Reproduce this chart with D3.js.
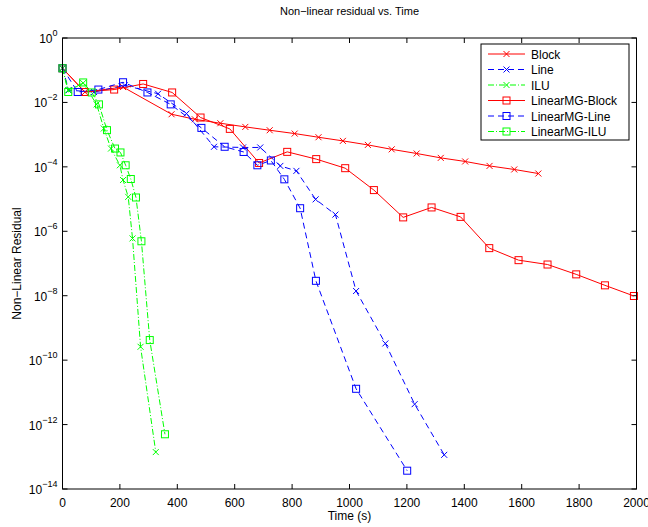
<!DOCTYPE html>
<html>
<head>
<meta charset="utf-8">
<script src="https://cdn.jsdelivr.net/npm/d3@7"></script>
<style>
  body { margin: 0; background: #fff; }
  svg { font-family: "Liberation Sans", Arial, sans-serif; }
</style>
</head>
<body>
<div id="chart"></div>
<script>
// data, [time (s), residual]
const block = [[0, 0.115], [78, 0.021], [211, 0.030], [380, 4.3e-3], [461, 3.0e-3], [550, 2.26e-3],
  [637, 1.74e-3], [722, 1.37e-3], [809, 1.08e-3], [892, 8.3e-4], [977, 6.4e-4], [1064, 4.8e-4],
  [1147, 3.5e-4], [1234, 2.6e-4], [1318, 1.9e-4], [1403, 1.47e-4], [1488, 1.07e-4], [1574, 8.3e-5],
  [1658, 6.2e-5]];
const line = [[0, 0.115], [22, 0.024], [110, 0.021], [217, 0.034], [333, 0.0186], [432, 4.5e-3],
  [528, 4.2e-4], [629, 4.0e-4], [689, 4.0e-4], [759, 1.07e-4], [815, 7.5e-5], [882, 9.8e-6],
  [951, 3.3e-6], [1023, 1.4e-8], [1125, 3.3e-10], [1227, 4.3e-12], [1330, 1.15e-13]];
const ilu = [[0, 0.115], [20, 0.024], [72, 0.04], [119, 8.7e-3], [144, 1.55e-3], [169, 3.7e-4],
  [200, 1.12e-4], [211, 3.9e-5], [229, 1.17e-5], [244, 6.0e-7], [272, 2.6e-10], [325, 1.4e-13]];
const mgBlock = [[0, 0.115], [78, 0.0211], [180, 0.0251], [281, 0.0374], [382, 0.0204], [481, 3.4e-3],
  [583, 1.51e-3], [685, 1.32e-4], [783, 2.92e-4], [884, 1.74e-4], [985, 9.1e-5], [1085, 1.9e-5],
  [1187, 2.7e-6], [1286, 5.5e-6], [1387, 2.8e-6], [1487, 3.0e-7], [1589, 1.27e-7], [1690, 9.3e-8],
  [1790, 4.6e-8], [1890, 2.1e-8], [1991, 9.8e-9]];
const mgLine = [[0, 0.115], [53, 0.0211], [125, 0.0251], [211, 0.0423], [296, 0.0204], [377, 8.7e-3],
  [484, 1.62e-3], [565, 4.2e-4], [631, 2.9e-4], [679, 1.12e-4], [726, 1.58e-4], [773, 4.1e-5],
  [828, 5.2e-6], [883, 2.9e-8], [1023, 1.29e-11], [1201, 3.7e-14]];
const mgIlu = [[0, 0.115], [20, 0.0211], [72, 0.0417], [102, 0.0204], [127, 8.7e-3], [155, 1.38e-3],
  [183, 3.7e-4], [202, 2.8e-4], [220, 1.12e-4], [238, 4.2e-5], [256, 1.12e-5], [275, 4.9e-7],
  [304, 4.2e-10], [357, 5.0e-13]];

const seriesNames = ['Block', 'Line', 'ILU', 'LinearMG-Block', 'LinearMG-Line', 'LinearMG-ILU'];
const xTicks = [0, 200, 400, 600, 800, 1000, 1200, 1400, 1600, 1800, 2000];
const yExponents = [0, -2, -4, -6, -8, -10, -12, -14];

const styles = [
  {color: '#ff0000', dash: null, marker: 'x'},
  {color: '#0000ff', dash: '6,4', marker: 'x'},
  {color: '#00ff00', dash: '6,2,1,2', marker: 'x'},
  {color: '#ff0000', dash: null, marker: 'square'},
  {color: '#0000ff', dash: '6,4', marker: 'square'},
  {color: '#00ff00', dash: '6,2,1,2', marker: 'square'}
];
const allSeries = [block, line, ilu, mgBlock, mgLine, mgIlu];

const width = 648;
const height = 527;
const margin = {top: 38, left: 62.5, right: 11.5, bottom: 38};

const svg = d3.select('#chart').append('svg')
    .attr('width', width)
    .attr('height', height);

const x = d3.scaleLinear().domain([0, 2000])
    .range([margin.left, width - margin.right]);
const y = d3.scaleLog().domain([1e-14, 1])
    .range([height - margin.bottom, margin.top]);

const plotW = width - margin.left - margin.right;
const plotH = height - margin.top - margin.bottom;

// ticks (inward, on all four sides)
const tick = 5;
const gAxes = svg.append('g').attr('stroke', '#000').attr('stroke-width', 1);
xTicks.forEach((t) => {
  gAxes.append('line').attr('x1', x(t)).attr('x2', x(t))
      .attr('y1', y(1e-14)).attr('y2', y(1e-14) - tick);
  gAxes.append('line').attr('x1', x(t)).attr('x2', x(t))
      .attr('y1', y(1)).attr('y2', y(1) + tick);
});
yExponents.forEach((e) => {
  const v = Math.pow(10, e);
  gAxes.append('line').attr('x1', x(0)).attr('x2', x(0) + tick)
      .attr('y1', y(v)).attr('y2', y(v));
  gAxes.append('line').attr('x1', x(2000)).attr('x2', x(2000) - tick)
      .attr('y1', y(v)).attr('y2', y(v));
});

// tick labels
svg.append('g').selectAll('text')
    .data(xTicks)
    .enter()
    .append('text')
    .attr('x', (d) => x(d))
    .attr('y', y(1e-14) + 18)
    .attr('text-anchor', 'middle')
    .attr('font-size', 12)
    .text((d) => d);

const yl = svg.append('g').selectAll('text')
    .data(yExponents)
    .enter()
    .append('text')
    .attr('x', margin.left - 27)
    .attr('y', (d) => y(Math.pow(10, d)) + 5)
    .attr('text-anchor', 'start')
    .attr('font-size', 12);
yl.append('tspan').text('10');
yl.append('tspan')
    .attr('dy', -7)
    .attr('font-size', 9)
    .text((d) => String(d).replace('-', '\u2212'));
// right-align labels against the axis
yl.each(function() {
  const w = this.getComputedTextLength();
  d3.select(this).attr('x', margin.left - 5 - w);
});

// series
const lineGen = d3.line().x((d) => x(d[0])).y((d) => y(d[1]));
const gSeries = svg.append('g');

const drawMarker = (g, type, cx, cy, color) => {
  if (type === 'x') {
    const s = 3;
    g.append('path')
        .attr('d', `M${cx - s},${cy - s}L${cx + s},${cy + s}M${cx - s},${cy + s}L${cx + s},${cy - s}`)
        .attr('stroke', color).attr('fill', 'none').attr('stroke-width', 1);
  } else {
    const s = 3.5;
    g.append('rect')
        .attr('x', cx - s).attr('y', cy - s)
        .attr('width', 2 * s).attr('height', 2 * s)
        .attr('stroke', color).attr('fill', 'none').attr('stroke-width', 1);
  }
};

allSeries.forEach((data, i) => {
  const st = styles[i];
  const g = gSeries.append('g');
  g.append('path')
      .datum(data)
      .attr('d', lineGen)
      .attr('fill', 'none')
      .attr('stroke', st.color)
      .attr('stroke-width', 1)
      .attr('stroke-dasharray', st.dash);
  data.forEach((d) => drawMarker(g, st.marker, x(d[0]), y(d[1]), st.color));
});

// frame
svg.append('rect')
    .attr('x', margin.left).attr('y', margin.top)
    .attr('width', plotW).attr('height', plotH)
    .attr('fill', 'none').attr('stroke', '#000').attr('stroke-width', 1);

// legend
const leg = {x: 481, y: 44, w: 148, h: 96};
const gLeg = svg.append('g');
gLeg.append('rect')
    .attr('x', leg.x).attr('y', leg.y)
    .attr('width', leg.w).attr('height', leg.h)
    .attr('fill', '#fff').attr('stroke', '#000').attr('stroke-width', 1);
seriesNames.forEach((name, i) => {
  const st = styles[i];
  const ly = 54 + i * 15.5;
  gLeg.append('line')
      .attr('x1', 488).attr('x2', 525)
      .attr('y1', ly).attr('y2', ly)
      .attr('stroke', st.color).attr('stroke-width', 1)
      .attr('stroke-dasharray', st.dash);
  drawMarker(gLeg, st.marker, 506.5, ly, st.color);
  gLeg.append('text')
      .attr('x', 531).attr('y', ly + 4.5)
      .attr('font-size', 12)
      .text(name);
});

// titles
svg.append('text')
    .attr('x', (margin.left + width - margin.right) / 2)
    .attr('y', 15)
    .attr('text-anchor', 'middle')
    .attr('font-size', 11)
    .text('Non\u2212linear residual vs. Time');
svg.append('text')
    .attr('x', (margin.left + width - margin.right) / 2)
    .attr('y', 520)
    .attr('text-anchor', 'middle')
    .attr('font-size', 12)
    .text('Time (s)');
svg.append('text')
    .attr('transform', `translate(21,${(margin.top + height - margin.bottom) / 2}) rotate(-90)`)
    .attr('text-anchor', 'middle')
    .attr('font-size', 12)
    .text('Non\u2212Linear Residual');
</script>
</body>
</html>
